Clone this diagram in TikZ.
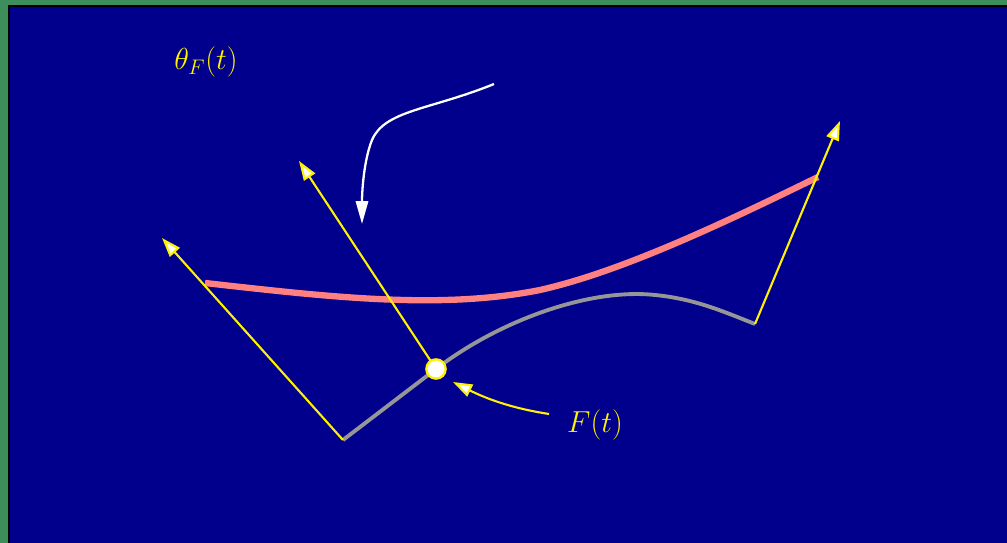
\documentclass[tikz,border=0pt]{standalone}
\usetikzlibrary{arrows.meta}
\definecolor{bgblue}{RGB}{0,0,140}
\definecolor{bggreen}{RGB}{60,142,90}
\definecolor{curvepink}{RGB}{255,128,128}
\definecolor{curvegray}{RGB}{150,150,150}
\tikzset{
  vecarrow/.style={yellow,line width=1.2pt,-{Triangle[length=11pt,width=7.5pt,fill=white]}},
  labeltext/.style={text=yellow,font=\LARGE}
}
\begin{document}
\begin{tikzpicture}[x=0.02cm,y=-0.02cm,line width=1.1pt]
  % frame
  \fill[bggreen] (0,0) rectangle (1007,543);
  \fill[black] (8,5) rectangle (1007,543);
  \fill[bgblue] (9.5,7) rectangle (1007,543);
  \useasboundingbox (0,0) rectangle (1007,543);
  \coordinate (A) at (343,440);
  \coordinate (P) at (436,369);
  \coordinate (B) at (755,324);
  \coordinate (Am) at (162,238);
  \coordinate (Pm) at (299,161);
  \coordinate (Bm) at (840,121);
  % base curve and its image
  \draw[curvegray,line width=2.2pt] (A) -- (P) .. controls (500,320) and (590,288) .. (655,295)
    .. controls (695,299) and (722,311) .. (B);
  \draw[curvepink,line width=3.6pt] (205,283) .. controls (330,297) and (440,310) .. (540,290)
    .. controls (620,272) and (720,225) .. (818,177);
  \draw[vecarrow] (A) -- (Am);
  \draw[vecarrow] (P) -- (Pm);
  \draw[vecarrow] (B) -- (Bm);
  \node[circle,draw=yellow,fill=white,line width=1.3pt,minimum size=11pt,inner sep=0pt] (dot) at (P) {};
  % labels
  \node[labeltext] (F) at (595,425) {$F(t)$};
  \node[labeltext] (theta) at (206,62) {$\theta_F(t)$};
  \coordinate (Fs) at (549,414);
  \draw[vecarrow] (Fs) .. controls (510,408) and (485,398) .. (453,382);
  \coordinate (Ws) at (494,84);
  \coordinate (We) at (362,224);
  \draw[white,line width=1.3pt,-{Triangle[length=13pt,width=7pt]}] (Ws)
    .. controls (430,110) and (385,110) .. (372,140) .. controls (364,160) and (362,190) .. (We);
\end{tikzpicture}
\end{document}
